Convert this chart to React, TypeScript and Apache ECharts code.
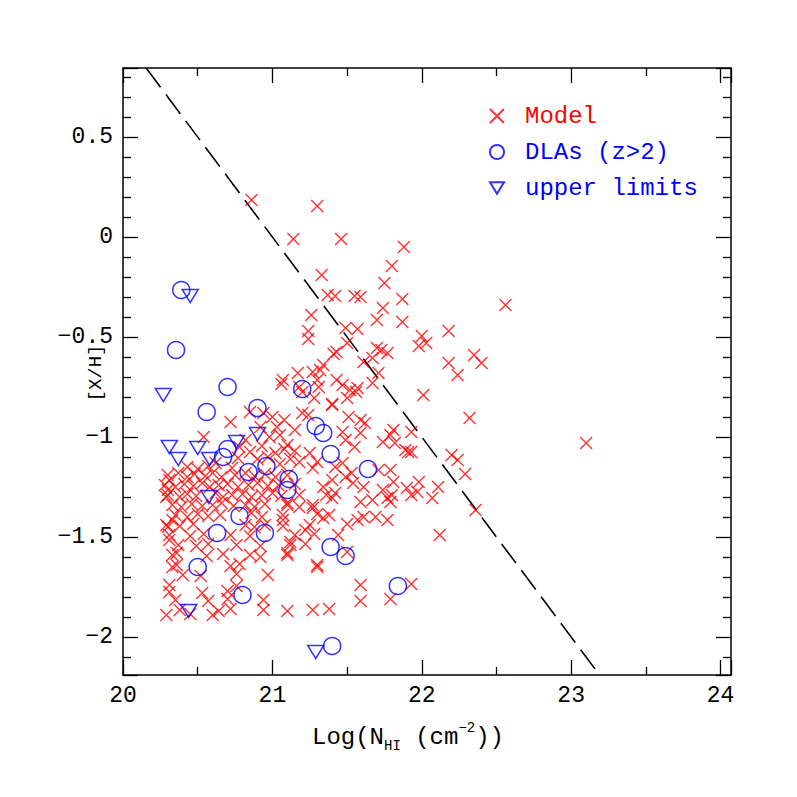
import React, { useEffect, useRef } from "react";
import * as echarts from "echarts";

// Axis ranges
const X_MIN = 20;
const X_MAX = 24.07;
const Y_MIN = -2.19;
const Y_MAX = 0.845;

// Series names (legend)
const SERIES_NAMES = ["Model", "DLAs (z>2)", "upper limits"];

// Model points: [log N_HI, [X/H]]
const MODEL_UPPER: [number, number][] = [
  [20.86, 0.185], [21.30, 0.155], [21.14, -0.01], [21.46, -0.01], [21.88, -0.05], [21.80, -0.145],
  [21.33, -0.19], [21.75, -0.23], [22.56, -0.34], [21.37, -0.29], [21.42, -0.295], [21.55, -0.295],
  [21.59, -0.30], [21.87, -0.31], [21.74, -0.355], [21.26, -0.39], [21.70, -0.415], [21.87, -0.425],
  [21.24, -0.47], [21.24, -0.51], [21.49, -0.455], [21.57, -0.46], [21.50, -0.53], [22.18, -0.47],
  [22.00, -0.495], [21.98, -0.545], [22.03, -0.53], [22.35, -0.59], [22.40, -0.63], [22.18, -0.63],
  [22.24, -0.69], [22.01, -0.79], [21.43, -0.575], [21.41, -0.585], [21.61, -0.625], [21.70, -0.555],
  [21.73, -0.565], [21.77, -0.58], [21.67, -0.605], [21.71, -0.68], [21.67, -0.73], [21.34, -0.64],
  [21.32, -0.665], [21.27, -0.675], [21.17, -0.68], [21.06, -0.735], [21.30, -0.715], [21.43, -0.715],
  [21.47, -0.74], [21.52, -0.765], [21.57, -0.755], [21.20, -0.775], [21.07, -0.715], [22.32, -0.905],
];

const MODEL_MIDDLE: [number, number][] = [
  [20.72, -0.925], [20.54, -1.00], [20.85, -0.875], [20.94, -0.88], [21.00, -0.90], [21.03, -0.95],
  [20.98, -1.00], [21.05, -0.99], [20.92, -0.95], [21.28, -0.805], [21.40, -0.835], [21.40, -0.84],
  [21.50, -0.805], [21.24, -0.89], [21.51, -0.90], [21.59, -0.915], [21.62, -0.93], [21.47, -0.975],
  [21.59, -0.98], [21.49, -1.015], [21.55, -1.05], [21.81, -0.965], [21.79, -0.99], [21.74, -1.025],
  [21.82, -1.03], [21.89, -1.065], [21.91, -1.075], [21.25, -1.08], [21.18, -0.75], [21.08, -0.915],
  [21.20, -0.88], [21.31, -0.75], [21.56, -0.775], [21.93, -0.975], [21.93, -1.075], [21.10, -1.04],
  [21.15, -0.965], [20.82, -1.015],
];

const MODEL_CORE: [number, number][] = [
  [20.78, -1.05], [20.93, -1.045], [21.08, -1.06],
  [20.85, -1.075], [21.02, -1.08], [21.15, -1.07],
  [20.77, -1.105], [20.90, -1.11], [20.97, -1.10], [21.12, -1.11],
  [20.62, -1.13], [21.05, -1.135], [21.18, -1.125],
  [20.43, -1.15], [20.50, -1.16], [20.57, -1.145], [20.73, -1.155],
  [20.30, -1.19], [20.37, -1.18], [20.43, -1.2], [20.48, -1.185], [20.55, -1.195], [20.60, -1.18],
  [20.66, -1.2], [20.75, -1.19], [20.82, -1.18], [20.88, -1.195], [20.95, -1.185], [21.02, -1.2], [21.10, -1.19],
  [20.28, -1.24], [20.35, -1.25], [20.41, -1.235], [20.47, -1.245], [20.53, -1.23], [20.58, -1.25], [20.64, -1.24],
  [20.70, -1.235], [20.77, -1.25], [20.84, -1.24], [20.90, -1.23], [20.97, -1.245], [21.04, -1.24], [21.15, -1.235],
  [20.30, -1.29], [20.38, -1.3], [20.43, -1.285], [20.49, -1.295], [20.62, -1.28], [20.67, -1.3], [20.73, -1.29],
  [20.80, -1.285], [20.86, -1.3], [20.93, -1.29], [21.00, -1.28], [21.06, -1.295], [21.18, -1.29],
  [20.33, -1.34], [20.39, -1.35], [20.46, -1.335], [20.53, -1.345], [20.60, -1.34], [20.66, -1.33], [20.74, -1.345],
  [20.82, -1.34], [20.88, -1.35], [20.95, -1.335], [21.10, -1.34], [21.18, -1.35], [21.27, -1.34],
  [20.35, -1.39], [20.43, -1.4], [20.50, -1.385], [20.57, -1.395], [20.65, -1.39], [20.86, -1.38], [20.93, -1.4],
  [21.07, -1.39], [21.30, -1.385], [21.38, -1.39],
  [20.29, -1.44], [20.38, -1.445], [20.47, -1.435], [20.82, -1.44], [20.88, -1.45], [20.95, -1.44], [21.07, -1.445],
  [21.25, -1.44], [21.50, -1.435],
  [20.31, -1.49], [20.45, -1.495], [20.54, -1.485], [20.72, -1.49], [20.85, -1.495], [21.15, -1.49], [21.28, -1.485], [21.44, -1.49],
  [20.37, -1.54], [20.49, -1.545], [20.57, -1.535], [20.76, -1.54], [20.92, -1.545], [21.12, -1.54], [21.22, -1.535],
  [20.33, -1.59], [20.56, -1.595], [20.67, -1.585], [20.85, -1.59], [20.92, -1.6], [21.10, -1.59],
  [20.36, -1.64], [20.72, -1.645], [20.78, -1.635], [21.30, -1.64],
  [20.40, -1.69], [20.52, -1.695], [20.76, -1.685], [20.97, -1.69],
  [20.31, -1.74], [20.76, -1.745], [21.59, -1.74], [21.93, -1.735],
  [20.31, -1.775], [20.53, -1.78], [20.70, -1.77],
  [20.35, -1.815], [20.57, -1.82], [20.70, -1.81], [20.94, -1.815], [21.59, -1.82], [21.79, -1.81],
  [20.38, -1.865], [20.64, -1.87], [20.72, -1.86], [20.94, -1.865], [21.10, -1.87], [21.38, -1.86], [21.27, -1.865],
  [20.29, -1.89], [20.45, -1.885], [20.60, -1.89],
];

const MODEL_EXTRA: [number, number][] = [
  [20.31, -1.215], [20.30, -1.265], [20.29, -1.30], [20.33, -1.415], [20.30, -1.45], [20.31, -1.515],
  [20.36, -1.58], [20.33, -1.65],
  [21.10, -1.33], [21.27, -1.355], [21.34, -1.405], [21.22, -1.465], [21.12, -1.525], [21.10, -1.58],
  [21.57, -1.415], [21.61, -1.40], [21.69, -1.40], [21.77, -1.415], [21.59, -1.325], [21.67, -1.315],
  [21.77, -1.305], [21.79, -1.325], [21.50, -1.575], [21.30, -1.65], [21.07, -1.415], [21.40, -1.305],
  [21.27, -1.155], [21.42, -1.15], [21.47, -1.13], [21.53, -1.18], [21.49, -1.20], [21.71, -1.165],
  [21.79, -1.165], [21.81, -1.225], [21.54, -1.23], [21.40, -1.215], [21.34, -1.25], [21.36, -1.29],
  [21.42, -1.28], [21.61, -1.25], [21.74, -1.265], [21.80, -1.29], [21.90, -1.255], [21.93, -1.29],
  [21.30, -1.125],
  [21.98, -1.225], [21.97, -1.275], [22.11, -1.25], [22.07, -1.305], [22.36, -1.365], [22.12, -1.49],
  [22.20, -1.09], [22.24, -1.115], [22.29, -1.185], [23.10, -1.03],
];

// Observed DLAs (z>2)
const DLA_POINTS: [number, number][] = [
  [20.39, -0.265], [20.355, -0.565], [20.56, -0.875], [20.70, -0.75], [20.90, -0.855], [21.20, -0.76],
  [21.29, -0.945], [21.34, -0.98], [21.39, -1.085], [21.64, -1.16], [20.67, -1.10], [20.70, -1.06],
  [20.84, -1.175], [20.96, -1.145], [21.11, -1.21], [21.10, -1.265], [20.78, -1.395], [20.63, -1.48],
  [20.95, -1.48], [21.39, -1.55], [21.49, -1.595], [20.50, -1.65], [20.80, -1.79], [21.84, -1.745],
  [21.40, -2.045],
];

// Upper limits
const UPPER_LIMIT_POINTS: [number, number][] = [
  [20.45, -0.295], [20.27, -0.79], [20.31, -1.05], [20.37, -1.11], [20.50, -1.055], [20.58, -1.11],
  [20.76, -1.025], [20.90, -0.985], [20.575, -1.30], [20.44, -1.87], [21.29, -2.075],
];

// Dashed limit line endpoints
const LIMIT_LINE: [number, number][] = [
  [20.155, 0.845],
  [23.19, -2.19],
];

const FONT = "Liberation Mono";
const RED = "#ff0000";
const BLUE = "#0000ff";
const CROSS = "path://M0,0L10,10M10,0L0,10";
const DOWN_TRIANGLE = "path://M0,0L12,0L6,10Z";

function fmtX(v: number) {
  return Math.abs(v - Math.round(v)) < 1e-6 ? String(Math.round(v)) : "";
}
function fmtY(v: number) {
  const r = Math.round(v * 2) / 2;
  if (Math.abs(v - r) > 1e-6) return "";
  const s = String(Math.abs(r));
  return r < 0 ? "\u2212" + s : s;
}

export default function App() {
  const ref = useRef<HTMLDivElement>(null);
  useEffect(() => {
    if (!ref.current) return;
    const chart = echarts.init(ref.current, undefined, { renderer: "svg" });
    const axisLine = { show: true, onZero: false, lineStyle: { color: "#000", width: 1.5 } };
    const xCommon = {
      type: "value",
      min: X_MIN,
      max: X_MAX,
      splitNumber: 4,
      axisLine,
      axisTick: { show: true, inside: true, length: 15, lineStyle: { color: "#000", width: 1.3 } },
      minorTick: { show: true, splitNumber: 2, length: 8, lineStyle: { color: "#000", width: 1.3 } },
      splitLine: { show: false },
      minorSplitLine: { show: false },
    };
    const yCommon = {
      type: "value",
      min: Y_MIN,
      max: Y_MAX,
      splitNumber: 6,
      axisLine,
      axisTick: { show: true, inside: true, length: 15, lineStyle: { color: "#000", width: 1.3 } },
      minorTick: { show: true, splitNumber: 5, length: 8, lineStyle: { color: "#000", width: 1.3 } },
      splitLine: { show: false },
      minorSplitLine: { show: false },
    };
    const modelData = [...MODEL_UPPER, ...MODEL_MIDDLE, ...MODEL_CORE, ...MODEL_EXTRA];
    chart.setOption({
      animation: false,
      backgroundColor: "#fff",
      grid: { left: 123, top: 68, right: 66, bottom: 122, containLabel: false },
      xAxis: [
        {
          ...xCommon,
          position: "bottom",
          axisLabel: {
            show: true,
            margin: 9,
            color: "#000",
            fontFamily: FONT,
            fontSize: 23,
            formatter: fmtX,
            showMinLabel: true,
            showMaxLabel: true,
          },
        },
        { ...xCommon, position: "top", axisLabel: { show: false } },
      ],
      yAxis: [
        {
          ...yCommon,
          position: "left",
          axisLabel: {
            show: true,
            margin: 10,
            color: "#000",
            fontFamily: FONT,
            fontSize: 23,
            formatter: fmtY,
          },
        },
        { ...yCommon, position: "right", axisLabel: { show: false } },
      ],
      legend: {
        orient: "vertical",
        left: 484,
        top: 99,
        itemGap: 12,
        itemWidth: 14,
        itemHeight: 14,
        selectedMode: false,
        textStyle: { fontFamily: FONT, fontSize: 24, padding: [0, 0, 0, 16] },
        data: [
          { name: SERIES_NAMES[0], textStyle: { color: RED } },
          { name: SERIES_NAMES[1], textStyle: { color: BLUE } },
          { name: SERIES_NAMES[2], icon: DOWN_TRIANGLE, textStyle: { color: BLUE } },
        ],
      },
      graphic: [
        {
          type: "text",
          x: 408,
          y: 737,
          style: {
            text: "{a|Log(N}{s|HI}{a| (cm}{p|\u22122}{a|))}",
            align: "center",
            verticalAlign: "middle",
            textAlign: "center",
            textVerticalAlign: "middle",
            fill: "#000",
            fontFamily: FONT,
            fontSize: 24,
            rich: {
              a: { fontFamily: FONT, fontSize: 24, lineHeight: 32, verticalAlign: "middle", fill: "#000" },
              s: { fontFamily: FONT, fontSize: 14, lineHeight: 32, verticalAlign: "bottom", fill: "#000" },
              p: { fontFamily: FONT, fontSize: 14, lineHeight: 32, verticalAlign: "top", fill: "#000" },
            },
          },
        },
        {
          type: "text",
          x: 96,
          y: 373,
          rotation: Math.PI / 2,
          style: {
            text: "[X/H]",
            align: "center",
            verticalAlign: "middle",
            textAlign: "center",
            textVerticalAlign: "middle",
            fill: "#000",
            fontFamily: FONT,
            fontSize: 19,
          },
        },
      ],
      series: [
        {
          name: SERIES_NAMES[0],
          type: "scatter",
          data: modelData,
          symbol: CROSS,
          symbolSize: 12,
          itemStyle: { color: "rgba(0,0,0,0)", borderColor: RED, borderWidth: 1.4 },
          emphasis: { disabled: true },
          z: 2,
        },
        {
          name: SERIES_NAMES[1],
          type: "scatter",
          data: DLA_POINTS,
          symbol: "circle",
          symbolSize: 17,
          itemStyle: { color: "rgba(0,0,0,0)", borderColor: BLUE, borderWidth: 1.5 },
          emphasis: { disabled: true },
          z: 3,
        },
        {
          name: SERIES_NAMES[2],
          type: "scatter",
          data: UPPER_LIMIT_POINTS,
          symbol: "triangle",
          symbolRotate: 180,
          symbolSize: [16, 13],
          itemStyle: { color: "rgba(0,0,0,0)", borderColor: BLUE, borderWidth: 1.5 },
          emphasis: { disabled: true },
          z: 3,
        },
        {
          name: "limit",
          type: "line",
          data: LIMIT_LINE,
          symbol: "none",
          lineStyle: { color: "#000", width: 1.6, type: [24, 9] },
          emphasis: { disabled: true },
          silent: true,
          z: 1,
        },
      ],
    });
    return () => chart.dispose();
  }, []);
  return (
    <div
      ref={ref}
      style={{ position: "fixed", left: 0, top: 0, width: 797, height: 797, background: "#fff" }}
    />
  );
}
